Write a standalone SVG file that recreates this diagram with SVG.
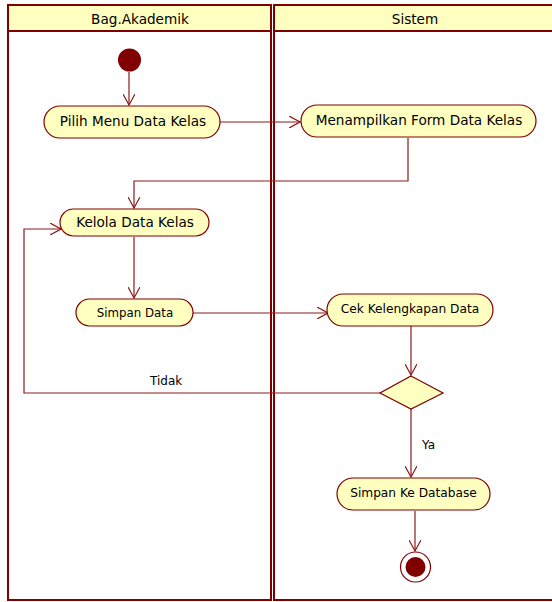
<svg xmlns="http://www.w3.org/2000/svg" width="552" height="602" viewBox="0 0 552 602">
  <style>
    .lane { fill: #ffffff; stroke: #800000; stroke-width: 2; }
    .head { fill: #ffffc0; stroke: #800000; stroke-width: 2; }
    .act { fill: #ffffc0; stroke: #800000; stroke-width: 1.2; }
    .flow { fill: none; stroke: #8b1a1a; stroke-width: 1.2; }
    .lbl { font-family: "DejaVu Sans", Verdana, sans-serif; font-size: 13.6px; fill: #000000; text-anchor: middle; }
    .lbl-s { font-size: 12.2px; }
    .small { font-family: "DejaVu Sans", Verdana, sans-serif; font-size: 12px; fill: #000000; }
  </style>
  <defs>
    <marker id="open" viewBox="0 0 12 12" refX="11" refY="6" markerWidth="12" markerHeight="12" markerUnits="userSpaceOnUse" orient="auto">
      <path d="M0,0 L11,6 L0,12" fill="none" stroke="#8b1a1a" stroke-width="1.2"/>
    </marker>
  </defs>

  <rect width="552" height="602" fill="#ffffff"/>

  <!-- swimlanes -->
  <g id="lane-akademik">
    <rect class="lane" x="8" y="5" width="263" height="595"/>
    <rect class="head" x="8" y="5" width="263" height="26"/>
    <text class="lbl" x="140" y="24">Bag.Akademik</text>
  </g>
  <g id="lane-sistem">
    <rect class="lane" x="274" y="5" width="290" height="595"/>
    <rect class="head" x="274" y="5" width="290" height="26"/>
    <text class="lbl" x="415" y="24">Sistem</text>
  </g>

  <!-- connectors -->
  <g id="connectors">
    <path class="flow" d="M129,72 L129,105" marker-end="url(#open)"/>
    <path class="flow" d="M220,122 L300,122" marker-end="url(#open)"/>
    <path class="flow" d="M408,138 L408,181 L134,181 L134,208" marker-end="url(#open)"/>
    <path class="flow" d="M134,237 L134,298" marker-end="url(#open)"/>
    <path class="flow" d="M193,313 L328,313" marker-end="url(#open)"/>
    <path class="flow" d="M411,326 L411,375" marker-end="url(#open)"/>
    <path class="flow" d="M380,393 L24,393 L24,229 L61,229" marker-end="url(#open)"/>
    <path class="flow" d="M411,409 L411,477" marker-end="url(#open)"/>
    <path class="flow" d="M415,511 L415,551" marker-end="url(#open)"/>
    <text class="small" x="150" y="385">Tidak</text>
    <text class="small" x="422" y="449">Ya</text>
  </g>

  <!-- nodes -->
  <g id="start">
    <circle cx="129.5" cy="60" r="11.5" fill="#800000"/>
  </g>
  <g id="pilih-menu">
    <rect class="act" x="44" y="106" width="176" height="32" rx="16"/>
    <text class="lbl" x="133" y="126">Pilih Menu Data Kelas</text>
  </g>
  <g id="tampil-form">
    <rect class="act" x="301" y="105" width="235" height="32" rx="16"/>
    <text class="lbl" x="419" y="125">Menampilkan Form Data Kelas</text>
  </g>
  <g id="kelola-data">
    <rect class="act" x="60" y="209" width="149" height="27" rx="13.5"/>
    <text class="lbl" x="135" y="227">Kelola Data Kelas</text>
  </g>
  <g id="simpan-data">
    <rect class="act" x="76" y="299" width="117" height="27" rx="13.5"/>
    <text class="lbl" x="135" y="317" style="font-size:11.8px">Simpan Data</text>
  </g>
  <g id="cek-data">
    <rect class="act" x="327" y="294" width="166" height="32" rx="16"/>
    <text class="lbl lbl-s" x="410" y="313">Cek Kelengkapan Data</text>
  </g>
  <g id="keputusan">
    <polygon class="act" points="411,376 443,393 411,409 380,393"/>
  </g>
  <g id="simpan-db">
    <rect class="act" x="337" y="478" width="153" height="32" rx="16"/>
    <text class="lbl lbl-s" x="413.5" y="497">Simpan Ke Database</text>
  </g>
  <g id="end">
    <circle cx="415.5" cy="567" r="15" fill="#ffffff" stroke="#800000" stroke-width="1.2"/>
    <circle cx="415.5" cy="567" r="10" fill="#800000"/>
  </g>
</svg>
